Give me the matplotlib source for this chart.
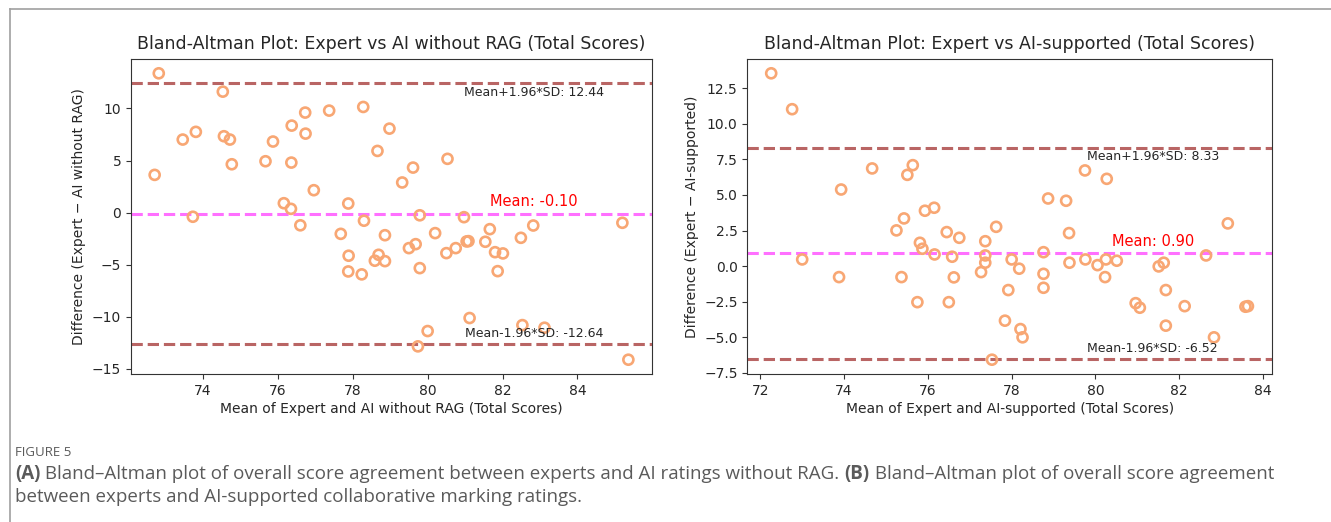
import numpy as np
import matplotlib
matplotlib.use("Agg")
import matplotlib.pyplot as plt
from matplotlib.lines import Line2D
from matplotlib.transforms import blended_transform_factory

# ── Data: panel A (expert vs AI without RAG) ─────────────────────────────────
mean_a = [72.82, 72.71, 73.46, 73.81, 73.73, 74.53, 74.56, 74.72, 74.77, 75.67,
          75.87, 76.37, 76.36, 76.73, 76.74, 76.96, 76.16, 76.35, 76.60, 77.37,
          78.28, 77.88, 78.30, 78.66, 78.98, 77.68, 77.89, 77.88, 78.24, 78.69,
          78.59, 78.86, 78.86, 80.53, 79.61, 79.32, 79.79, 80.97, 80.20, 81.66,
          82.82, 85.20, 79.50, 79.68, 80.50, 80.75, 81.04, 81.09, 81.54, 81.80,
          82.01, 81.87, 82.49, 79.79, 81.12, 82.53, 83.12, 80.00, 79.74, 85.36]
diff_a = [13.37, 3.62, 7.01, 7.75, -0.40, 11.61, 7.33, 7.01, 4.64, 4.93,
          6.82, 8.35, 4.80, 9.60, 7.58, 2.15, 0.90, 0.36, -1.22, 9.79,
          10.14, 0.87, -0.78, 5.92, 8.06, -2.04, -4.14, -5.65, -5.93, -4.05,
          -4.62, -4.66, -2.17, 5.16, 4.32, 2.89, -0.26, -0.44, -1.97, -1.59,
          -1.24, -0.98, -3.41, -3.03, -3.89, -3.41, -2.77, -2.74, -2.80, -3.80,
          -3.92, -5.62, -2.42, -5.33, -10.12, -10.80, -11.05, -11.37, -12.84, -14.12]
bias_a, upper_a, lower_a = -0.10, 12.44, -12.64

# ── Data: panel B (expert vs AI-supported) ───────────────────────────────────
mean_b = [72.26, 72.76, 73.93, 74.67, 75.51, 75.64, 75.43, 75.93, 76.15, 73.00,
          73.88, 75.25, 75.81, 75.87, 75.37, 75.75, 76.16, 76.45, 76.75, 76.58,
          76.62, 76.50, 77.37, 77.37, 77.37, 77.27, 77.63, 77.53, 79.75, 80.27,
          78.87, 79.30, 83.16, 79.37, 78.76, 78.00, 78.18, 78.76, 78.76, 77.92,
          79.38, 79.76, 80.05, 80.25, 80.51, 80.23, 81.51, 81.63, 82.64, 81.68,
          80.96, 81.06, 82.13, 83.58, 83.64, 81.68, 82.83, 77.84, 78.21, 78.26]
diff_b = [13.54, 11.02, 5.38, 6.86, 6.41, 7.09, 3.35, 3.89, 4.10, 0.47,
          -0.77, 2.51, 1.64, 1.22, -0.77, -2.53, 0.82, 2.39, 1.99, 0.66,
          -0.79, -2.53, 1.75, 0.75, 0.24, -0.42, 2.76, -6.57, 6.72, 6.13,
          4.75, 4.59, 3.00, 2.32, 0.98, 0.47, -0.18, -0.54, -1.52, -1.68,
          0.24, 0.47, 0.07, 0.47, 0.38, -0.77, -0.02, 0.24, 0.75, -1.68,
          -2.60, -2.92, -2.81, -2.85, -2.81, -4.18, -5.00, -3.83, -4.42, -5.00]
bias_b, upper_b, lower_b = 0.90, 8.33, -6.52

TXT    = "#262626"
ORANGE = "#f8a774"
LOA    = "#b96564"
BIAS   = "#ff70ff"
CAP    = "#5a5a5a"

plt.rcParams["font.family"] = ["DejaVu Sans"]

fig = plt.figure(figsize=(13.31, 5.22), dpi=100, facecolor="white")

panels = [
    (mean_a, diff_a, bias_a, upper_a, lower_a,
     "Bland-Altman Plot: Expert vs AI without RAG (Total Scores)",
     "Mean of Expert and AI without RAG (Total Scores)",
     "Difference (Expert \u2212 AI without RAG)",
     [0.0984, 0.2835, 0.3915, 0.6035]),
    (mean_b, diff_b, bias_b, upper_b, lower_b,
     "Bland-Altman Plot: Expert vs AI-supported (Total Scores)",
     "Mean of Expert and AI-supported (Total Scores)",
     "Difference (Expert \u2212 AI-supported)",
     [0.5615, 0.2835, 0.3940, 0.6035]),
]

for x, d, bias, up, lo, title, xlab, ylab, rect in panels:
    ax = fig.add_axes(rect)
    ax.scatter(x, d, s=52, facecolors="none", edgecolors=ORANGE, linewidths=1.9, zorder=3)
    ax.axhline(up,   color=LOA,  linestyle="--", linewidth=2.2)
    ax.axhline(bias, color=BIAS, linestyle="--", linewidth=2.2)
    ax.axhline(lo,   color=LOA,  linestyle="--", linewidth=2.2)

    tr = blended_transform_factory(ax.transAxes, ax.transData)
    ax.annotate(f"Mean+1.96*SD: {up:.2f}", (0.773, up), xycoords=tr,
                xytext=(0, -2), textcoords="offset points",
                ha="center", va="top", fontsize=9, color=TXT)
    ax.annotate(f"Mean: {bias:.2f}", (0.773, bias), xycoords=tr,
                xytext=(0, 3), textcoords="offset points",
                ha="center", va="bottom", fontsize=10.5, color="red")
    ax.annotate(f"Mean-1.96*SD: {lo:.2f}", (0.773, lo), xycoords=tr,
                xytext=(0, 3), textcoords="offset points",
                ha="center", va="bottom", fontsize=9, color=TXT)

    ax.set_title(title, fontsize=12.5, color=TXT, pad=7)
    ax.set_xlabel(xlab, fontsize=10, color=TXT, labelpad=3)
    ax.set_ylabel(ylab, fontsize=10, color=TXT)
    ax.tick_params(labelsize=10, labelcolor=TXT, color="#333333")
    for sp in ax.spines.values():
        sp.set_edgecolor("#333333")

# ── Page frame and caption ───────────────────────────────────────────────────
W, H = 1331, 522
fig.add_artist(Line2D([10 / W, 1.0], [1 - 9 / H, 1 - 9 / H], color="#a0a0a0", linewidth=1.2))
fig.add_artist(Line2D([10 / W, 10 / W], [1 - 9 / H, 0.0], color="#a0a0a0", linewidth=1.2))

fig.text(15 / W, 1 - 452 / H, "FIGURE 5", fontsize=9.5, color=CAP,
         family="Open Sans", va="center")

caption_lines = [
    [("(A)", "bold"), (" Bland\u2013Altman plot of overall score agreement between experts and AI ratings without RAG. ", "normal"),
     ("(B)", "bold"), (" Bland\u2013Altman plot of overall score agreement", "normal")],
    [("between experts and AI-supported collaborative marking ratings.", "normal")],
]
line_y = [474, 497]

renderer = fig.canvas.get_renderer()
for pieces, yy in zip(caption_lines, line_y):
    xpos = 15 / W
    for txt, weight in pieces:
        t = fig.text(xpos, 1 - yy / H, txt, fontsize=13.5, color=CAP, family="Open Sans",
                     weight=weight, va="center")
        bb = t.get_window_extent(renderer=renderer)
        xpos += bb.width / W

fig.savefig("out.png", dpi=100, facecolor="white")
